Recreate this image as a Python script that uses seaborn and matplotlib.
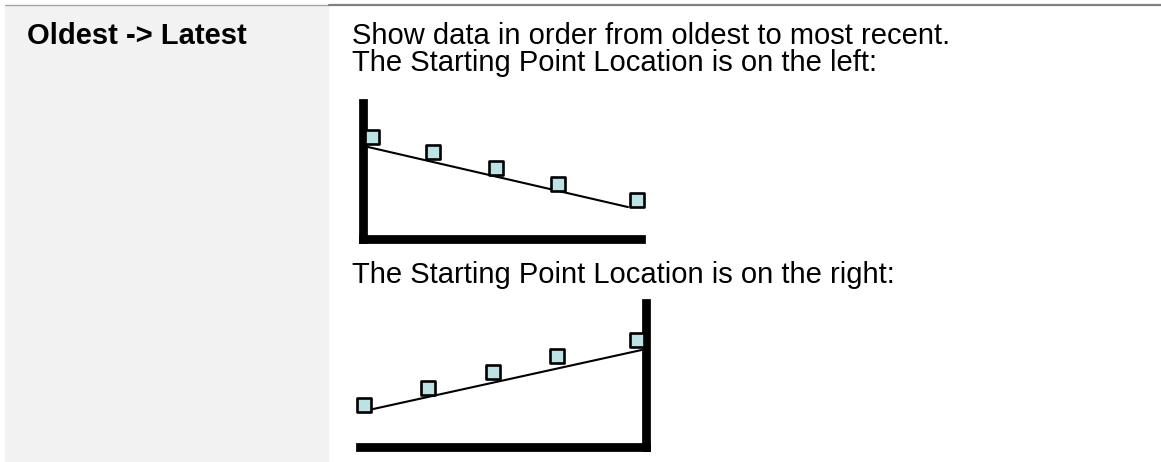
import matplotlib
matplotlib.use("Agg")
import matplotlib.pyplot as plt
import seaborn as sns
import pandas as pd
from matplotlib.patches import Rectangle
from matplotlib.lines import Line2D

sns.set_style("white")
plt.rcParams['font.family'] = ['Liberation Sans', 'DejaVu Sans']

# ---- data ----
row_label = "Oldest -> Latest"
desc_lines = ["Show data in order from oldest to most recent.",
              "The Starting Point Location is on the left:"]
desc_line3 = "The Starting Point Location is on the right:"

# chart 1 (starting point on the left)
left_x = [3.4, 25.4, 48.0, 70.3, 98.7]
left_y = [74.7, 63.7, 52.0, 40.3, 28.6]
left_trend_x = [2.0, 95.5]
left_trend_y = [67.4, 23.4]

# chart 2 (starting point on the right)
right_x = [1.6, 23.9, 46.6, 68.9, 96.9]
right_y = [28.8, 40.6, 51.7, 62.8, 74.0]
right_trend_x = [4.7, 98.4]
right_trend_y = [26.0, 67.0]

W, H = 1161, 462
fig = plt.figure(figsize=(W / 100, H / 100), dpi=100)
fig.patch.set_facecolor("white")

def fx(px):
    return px / W

def fy(py):
    return 1 - py / H

# background of the label column
fig.patches.append(Rectangle((fx(5), 0), fx(329) - fx(5), fy(5), transform=fig.transFigure,
                             facecolor="#f2f2f2", edgecolor="none", zorder=0))
# top rule
fig.lines.append(Line2D([fx(5), fx(329)], [fy(5), fy(5)], transform=fig.transFigure,
                        color="#a6a6a6", lw=1.0, zorder=1))
fig.lines.append(Line2D([fx(329), 1], [fy(5.2), fy(5.2)], transform=fig.transFigure,
                        color="#808080", lw=1.6, zorder=1))

fs = 21
fig.text(fx(27), fy(44), row_label, fontsize=fs, fontweight="bold", color="black", va="baseline")
fig.text(fx(352), fy(44), desc_lines[0], fontsize=fs, color="black", va="baseline")
fig.text(fx(352), fy(71), desc_lines[1], fontsize=fs, color="black", va="baseline")
fig.text(fx(352), fy(283), desc_line3, fontsize=fs, color="black", va="baseline")

marker_fc = "#bde2e3"
spine_w = 6.3


def draw_chart(rect, xs, ys, tx, ty, side):
    ax = fig.add_axes(rect)
    ax.set_facecolor("none")
    df = pd.DataFrame({"x": xs, "y": ys})
    dt = pd.DataFrame({"x": tx, "y": ty})
    sns.lineplot(data=dt, x="x", y="y", ax=ax, color="black", lw=1.5, zorder=3)
    sns.scatterplot(data=df, x="x", y="y", ax=ax, marker="s", s=110,
                    color=marker_fc, edgecolor="black", linewidth=1.9, zorder=4, clip_on=False)
    for c in ax.collections:
        c.set_clip_on(False)
    ax.set_xlim(0, 100)
    ax.set_ylim(0, 100)
    ax.set_xticks([])
    ax.set_yticks([])
    ax.set_xlabel("")
    ax.set_ylabel("")
    for s in ["top", "left", "right", "bottom"]:
        ax.spines[s].set_visible(False)
    for s in [side, "bottom"]:
        sp = ax.spines[s]
        sp.set_visible(True)
        sp.set_linewidth(spine_w)
        sp.set_color("black")
        sp.set_capstyle("projecting")
        sp.set_zorder(2)
    return ax


draw_chart([fx(362.5), fy(239), fx(640.5) - fx(362.5), fy(102.5) - fy(239)],
           left_x, left_y, left_trend_x, left_trend_y, "left")
draw_chart([fx(359.5), fy(446.5), fx(646) - fx(359.5), fy(302.5) - fy(446.5)],
           right_x, right_y, right_trend_x, right_trend_y, "right")

fig.savefig("out.png", dpi=100, facecolor="white")
